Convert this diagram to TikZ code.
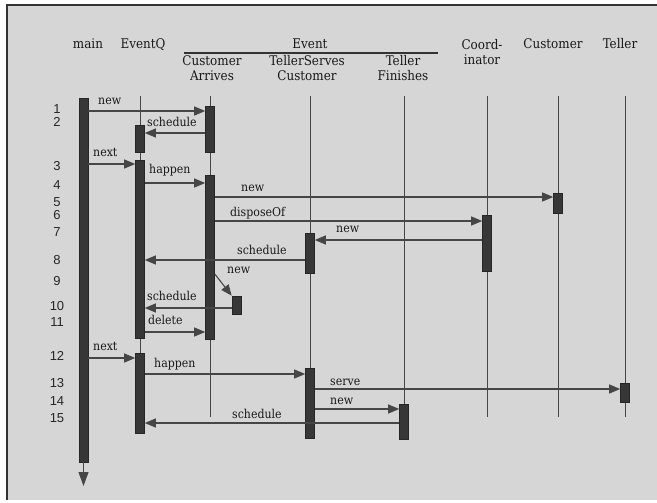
\documentclass[tikz,border=0pt]{standalone}
\usepackage{fontspec}
\setmainfont{DejaVu Serif Condensed}
\newfontfamily\numfont{Liberation Sans}
\usepackage{xcolor}
\usetikzlibrary{arrows.meta, math}
\definecolor{mygray}{RGB}{214,214,214}
\definecolor{mydark}{RGB}{55,55,55}
\definecolor{myline}{RGB}{70,70,70}

\tikzset{
  lifeline/.style={draw=myline, line width=1pt},
  actbar/.style={rectangle, draw=black!85, fill=mydark, minimum width=9pt, inner sep=0pt, line width=0.6pt},
  msg/.style={draw=myline, line width=1.1pt, -{Triangle[length=11pt,width=9pt]}},
  lbl/.style={font=\fontsize{12.2}{14}\selectfont, text=black!90, anchor=base west, inner sep=0pt},
  hdr/.style={font=\fontsize{13.3}{15}\selectfont, text=black!90, align=center, inner sep=0pt, anchor=base},
  stepno/.style={font=\numfont\fontsize{13}{13}\selectfont, text=black!85, inner sep=0pt}
}

\begin{document}
\begin{tikzpicture}[x=1pt,y=-1pt]
\tikzmath{
\xm=83.5;%main
\xq=140;%EventQ
\xa=210;%CustomerArrives
\xs=310;%TellerServesCustomer
\xf=404;%TellerFinishes
\xc=487;%Coordinator
\xu=558;%Customer
\xt=625;%Teller
\ytop=96;
\yend=417;
}
\useasboundingbox (0,0) rectangle (657,503);
\fill[white] (0,0) rectangle (657,503);
\fill[mygray] (7,5) rectangle (657,500);
\draw[black!80, line width=2pt] (7,500) -- (7,5) -- (657,5);

% headers (multi-line ones sit on their last baseline)
\node[hdr] (hmain) at (88,49) {main};
\node[hdr] (hq) at (143,49) {EventQ};
\node[hdr] (hevent) at (310,49) {Event};
\draw[black!80, line width=1.5pt] (184,53) -- (438,53);
\node[hdr] (ha) at (212,81) {Customer\\Arrives};
\node[hdr] (hs) at (307,81) {TellerServes\\Customer};
\node[hdr] (hf) at (403,81) {Teller\\Finishes};
\node[hdr] (hc) at (482,65) {Coord-\\inator};
\node[hdr] (hu) at (553,49) {Customer};
\node[hdr] (ht) at (620,49) {Teller};

% lifelines
\draw[lifeline] (\xq,\ytop) -- (\xq,433);
\draw[lifeline] (\xa,\ytop) -- (\xa,\yend);
\draw[lifeline] (\xs,\ytop) -- (\xs,438);
\draw[lifeline] (\xf,\ytop) -- (\xf,439);
\draw[lifeline] (\xc,\ytop) -- (\xc,\yend);
\draw[lifeline] (\xu,\ytop) -- (\xu,\yend);
\draw[lifeline] (\xt,\ytop) -- (\xt,\yend);

% activation bars
\node[actbar, minimum height=364pt] (mainbar) at (\xm,280) {};
\node[actbar, minimum height=27pt] (q1) at (\xq,138.5) {};
\node[actbar, minimum height=178pt] (q2) at (\xq,249) {};
\node[actbar, minimum height=80pt] (q3) at (\xq,393) {};
\node[actbar, minimum height=46pt] (a1) at (\xa,129) {};
\node[actbar, minimum height=164pt] (a2) at (\xa,257) {};
\node[actbar, minimum height=18pt] (anew) at (236.5,305) {};
\node[actbar, minimum height=40pt] (s1) at (\xs,253) {};
\node[actbar, minimum height=70pt] (s2) at (\xs,403) {};
\node[actbar, minimum height=35pt] (f1) at (\xf,421.5) {};
\node[actbar, minimum height=56pt] (c1) at (\xc,243) {};
\node[actbar, minimum height=20pt] (u1) at (\xu,203) {};
\node[actbar, minimum height=19pt] (t1) at (\xt,392.5) {};

\coordinate (mainend) at (\xm,486);
\draw[lifeline, -{Triangle[length=14pt,width=10pt]}] (mainbar.south) -- (mainend);

% step numbers
\foreach \n/\y in {1/109,2/122,3/166,4/185,5/202,6/215,7/232,8/260,9/281,10/306,11/322,12/356,13/383,14/401,15/418}
  \node[stepno] (n\n) at (57,\y) {\n};

% message rows
\foreach \i/\y in {1/111,2/133,3/164,4/183,5/197,6/221,7/240,8/260,9/274,10/308,11/332,12/358,13/374,14/389,15/409,16/423}
  \coordinate (m\i) at (0,\y);

% messages
\draw[msg] (mainbar.east |- m1) -- (a1.west |- m1);
\draw[msg] (a1.west |- m2) -- (q1.east |- m2);
\draw[msg] (mainbar.east |- m3) -- (q2.west |- m3);
\draw[msg] (q2.east |- m4) -- (a2.west |- m4);
\draw[msg] (a2.east |- m5) -- (u1.west |- m5);
\draw[msg] (a2.east |- m6) -- (c1.west |- m6);
\draw[msg] (c1.west |- m7) -- (s1.east |- m7);
\draw[msg] (s1.west |- m8) -- (q2.east |- m8);
\draw[msg] (a2.east |- m9) -- (anew.north west);
\draw[msg] (anew.west |- m10) -- (q2.east |- m10);
\draw[msg] (q2.east |- m11) -- (a2.west |- m11);
\draw[msg] (mainbar.east |- m12) -- (q3.west |- m12);
\draw[msg] (q3.east |- m13) -- (s2.west |- m13);
\draw[msg] (s2.east |- m14) -- (t1.west |- m14);
\draw[msg] (s2.east |- m15) -- (f1.west |- m15);
\draw[msg] (f1.west |- m16) -- (q3.east |- m16);

% labels
\node[lbl] (l1) at (98,105) {new};
\node[lbl] (l2) at (147,127) {schedule};
\node[lbl] (l3) at (93,157) {next};
\node[lbl] (l4) at (149,173) {happen};
\node[lbl] (l5) at (241,192) {new};
\node[lbl] (l6) at (230,216) {disposeOf};
\node[lbl] (l7) at (336,233) {new};
\node[lbl] (l8) at (237,254) {schedule};
\node[lbl] (l9) at (227,273) {new};
\node[lbl] (l10) at (147,300) {schedule};
\node[lbl] (l11) at (148,324) {delete};
\node[lbl] (l12) at (93,350) {next};
\node[lbl] (l13) at (154,367) {happen};
\node[lbl] (l14) at (330,385) {serve};
\node[lbl] (l15) at (330,404) {new};
\node[lbl] (l16) at (232,418) {schedule};
\end{tikzpicture}
\end{document}
